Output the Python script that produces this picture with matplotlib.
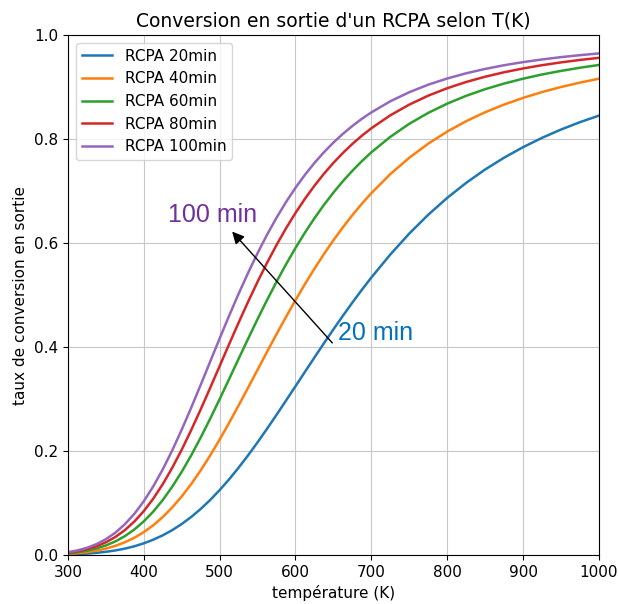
import numpy as np
import matplotlib
matplotlib.use('Agg')
import matplotlib.pyplot as plt

temperature = [300, 312.5, 325, 337.5, 350, 362.5, 375, 387.5, 400, 412.5, 425, 437.5, 450,
               462.5, 475, 487.5, 500, 512.5, 525, 537.5, 550, 562.5, 575, 587.5, 600, 612.5,
               625, 637.5, 650, 662.5, 675, 687.5, 700, 725, 750, 775, 800, 825, 850, 875,
               900, 925, 950, 975, 1000]

# conversion for each residence time
x_20 = [0.0011, 0.0018, 0.0028, 0.0043, 0.0063, 0.0089, 0.0124, 0.0169, 0.0226, 0.0296,
        0.0380, 0.0480, 0.0598, 0.0733, 0.0887, 0.1059, 0.1250, 0.1457, 0.1681, 0.1918,
        0.2169, 0.2429, 0.2697, 0.2971, 0.3247, 0.3524, 0.3800, 0.4073, 0.4340, 0.4602,
        0.4855, 0.5101, 0.5337, 0.5779, 0.6182, 0.6544, 0.6868, 0.7157, 0.7414, 0.7641,
        0.7843, 0.8023, 0.8182, 0.8324, 0.8450]
x_40 = [0.0022, 0.0036, 0.0056, 0.0085, 0.0124, 0.0177, 0.0246, 0.0333, 0.0442, 0.0574,
        0.0732, 0.0917, 0.1128, 0.1366, 0.1629, 0.1916, 0.2222, 0.2544, 0.2878, 0.3219,
        0.3564, 0.3908, 0.4248, 0.4580, 0.4902, 0.5212, 0.5507, 0.5788, 0.6054, 0.6303,
        0.6537, 0.6756, 0.6959, 0.7325, 0.7640, 0.7911, 0.8143, 0.8343, 0.8515, 0.8663,
        0.8791, 0.8903, 0.9000, 0.9085, 0.9160]
x_60 = [0.0033, 0.0054, 0.0084, 0.0127, 0.0185, 0.0263, 0.0364, 0.0492, 0.0649, 0.0837,
        0.1059, 0.1315, 0.1602, 0.1918, 0.2260, 0.2622, 0.2999, 0.3385, 0.3774, 0.4159,
        0.4538, 0.4904, 0.5256, 0.5590, 0.5906, 0.6202, 0.6477, 0.6734, 0.6970, 0.7189,
        0.7390, 0.7575, 0.7744, 0.8042, 0.8293, 0.8503, 0.8680, 0.8831, 0.8958, 0.9067,
        0.9160, 0.9241, 0.9310, 0.9371, 0.9424]
x_80 = [0.0044, 0.0072, 0.0112, 0.0168, 0.0246, 0.0348, 0.0480, 0.0645, 0.0846, 0.1086,
        0.1364, 0.1679, 0.2027, 0.2404, 0.2802, 0.3215, 0.3635, 0.4056, 0.4469, 0.4871,
        0.5255, 0.5620, 0.5963, 0.6283, 0.6579, 0.6852, 0.7103, 0.7332, 0.7542, 0.7732,
        0.7906, 0.8064, 0.8207, 0.8456, 0.8662, 0.8834, 0.8977, 0.9097, 0.9198, 0.9284,
        0.9357, 0.9420, 0.9474, 0.9521, 0.9561]
x_100 = [0.0055, 0.0090, 0.0139, 0.0210, 0.0305, 0.0431, 0.0593, 0.0793, 0.1036, 0.1322,
         0.1649, 0.2014, 0.2412, 0.2835, 0.3273, 0.3720, 0.4166, 0.4603, 0.5025, 0.5427,
         0.5806, 0.6160, 0.6487, 0.6788, 0.7063, 0.7313, 0.7540, 0.7746, 0.7932, 0.8100,
         0.8251, 0.8389, 0.8512, 0.8726, 0.8900, 0.9045, 0.9164, 0.9264, 0.9348, 0.9419,
         0.9479, 0.9530, 0.9575, 0.9613, 0.9646]

labels = ['RCPA 20min', 'RCPA 40min', 'RCPA 60min', 'RCPA 80min', 'RCPA 100min']


def main():
    plt.rcParams['font.size'] = 11
    fig = plt.figure(figsize=(6.18, 6.04), dpi=100)
    ax = fig.add_axes([0.110, 0.081, 0.859, 0.861])

    for serie, lab in zip([x_20, x_40, x_60, x_80, x_100], labels):
        ax.plot(temperature, serie, label=lab, linewidth=1.8)

    ax.set_xlim(300, 1000)
    ax.set_ylim(0, 1.0)
    ax.set_title("Conversion en sortie d'un RCPA selon T(K)", fontsize=13.5)
    ax.set_xlabel('température (K)')
    ax.set_ylabel('taux de conversion en sortie')
    ax.grid(True, color='#c8c8c8')
    ax.legend(loc='upper left')

    # annotations added on top of the chart
    ax.annotate('', xy=(514, 0.626), xytext=(651, 0.404),
                arrowprops=dict(arrowstyle='-|>', color='black', lw=1.0, mutation_scale=18))
    ax.text(432, 0.654, '100 min', color='#7030A0', fontsize=18,
            family='Liberation Sans', va='center', ha='left')
    ax.text(656, 0.427, '20 min', color='#0070C0', fontsize=18,
            family='Liberation Sans', va='center', ha='left')

    fig.savefig('out.png', dpi=100)


if __name__ == '__main__':
    main()
